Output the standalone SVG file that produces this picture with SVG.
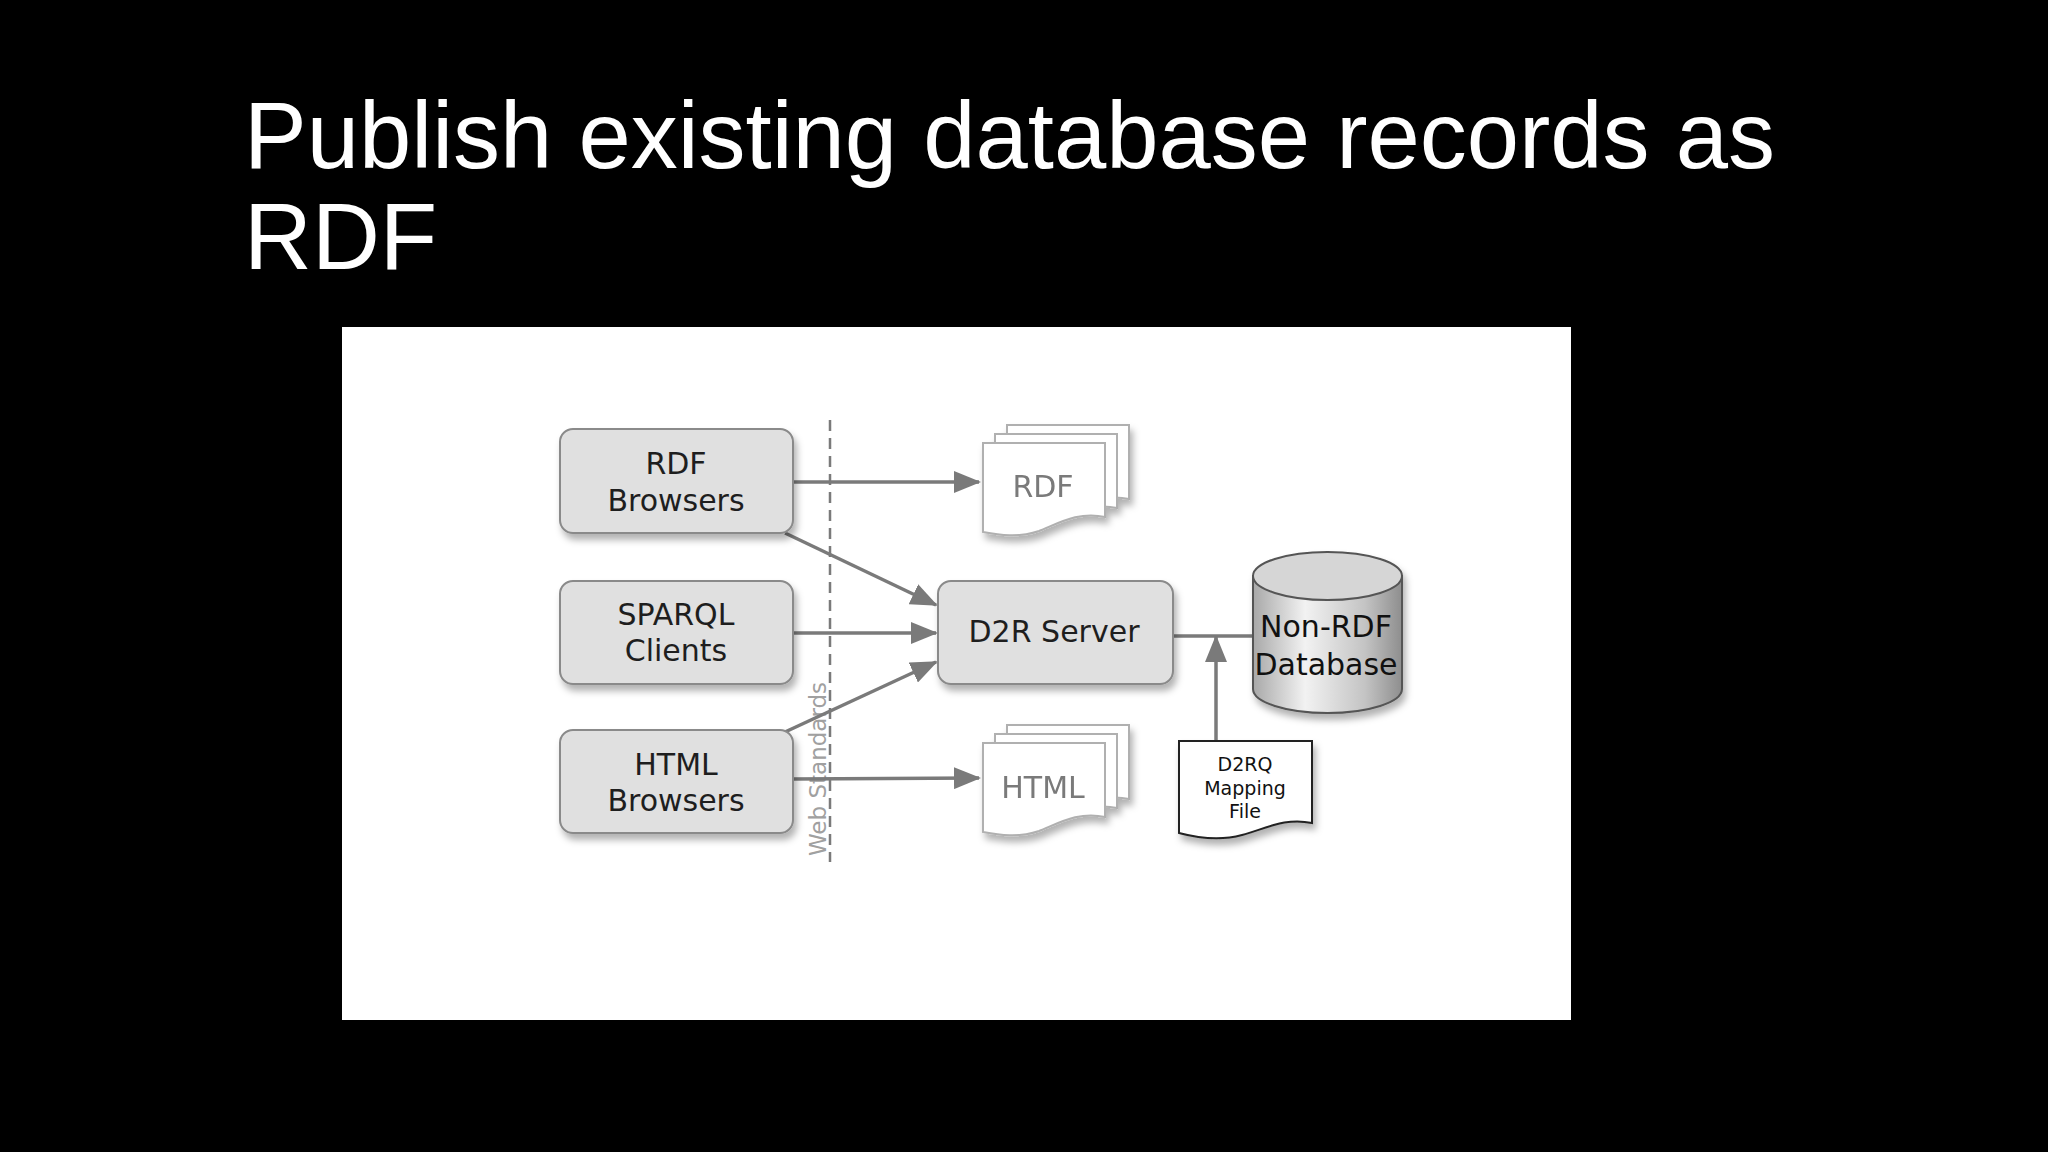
<svg xmlns="http://www.w3.org/2000/svg" width="2048" height="1152" viewBox="0 0 2048 1152">
<defs>
<style>
.title{font-family:"Liberation Sans",Arial,sans-serif;font-size:94px;fill:#fff}
.box{fill:#e0e0e0;stroke:#8a8a8a;stroke-width:2;filter:url(#sh)}
.lbl{font-family:"DejaVu Sans",Verdana,sans-serif;font-size:30px;fill:#1e1e1e;text-anchor:middle}
.doc{fill:#fff;stroke:#b0b0b0;stroke-width:2}
.doclbl{font-family:"DejaVu Sans",Verdana,sans-serif;font-size:30px;fill:#7a7a7a;text-anchor:middle}
.con{stroke:#7a7a7a;stroke-width:3.5;fill:none}
.arr{marker-end:url(#ah)}
.ws{font-family:"DejaVu Sans",Verdana,sans-serif;font-size:23px;fill:#a0a0a0;text-anchor:middle}
</style>
<filter id="sh" x="-20%" y="-20%" width="150%" height="160%">
<feDropShadow dx="3" dy="6" stdDeviation="3.5" flood-color="#000" flood-opacity="0.3"/>
</filter>
<marker id="ah" viewBox="0 0 27 22" refX="25" refY="11" markerWidth="27" markerHeight="22" markerUnits="userSpaceOnUse" orient="auto">
<path d="M0,0 L27,11 L0,22 Z" fill="#7a7a7a"/>
</marker>
<linearGradient id="cyl" x1="0" y1="0" x2="1" y2="0">
<stop offset="0" stop-color="#a8a8a8"/>
<stop offset="0.35" stop-color="#f2f2f2"/>
<stop offset="0.75" stop-color="#c4c4c4"/>
<stop offset="1" stop-color="#8e8e8e"/>
</linearGradient>
<path id="sheet" d="M0,0 H122 V74 C96,68 76,80 56,88 C36,95 16,92 0,89 Z"/>
</defs>
<rect width="2048" height="1152" fill="#000"/>
<g id="title">
<text class="title" x="244" y="168">Publish existing database records as</text>
<text class="title" x="244" y="269">RDF</text>
</g>
<rect id="panel" x="342" y="327" width="1229" height="693" fill="#fff"/>
<g id="web-standards">
<line x1="830" y1="420" x2="830" y2="862" stroke="#7a7a7a" stroke-width="2.5" stroke-dasharray="11,7"/>
<text class="ws" transform="translate(826,769) rotate(-90)">Web Standards</text>
</g>
<g id="connectors">
<line class="con arr" x1="793" y1="482" x2="979" y2="482"/>
<line class="con arr" x1="785" y1="533" x2="936" y2="605"/>
<line class="con arr" x1="793" y1="633" x2="936" y2="633"/>
<line class="con arr" x1="785" y1="732" x2="936" y2="662"/>
<line class="con arr" x1="793" y1="779" x2="979" y2="778"/>
<line class="con" x1="1173" y1="636" x2="1256" y2="636"/>
<line class="con arr" x1="1216" y1="742" x2="1216" y2="637"/>
</g>
<g id="rdf-browsers">
<rect class="box" x="560" y="429" width="233" height="104" rx="13"/>
<text class="lbl" x="676" y="474">RDF</text>
<text class="lbl" x="676" y="511">Browsers</text>
</g>
<g id="sparql-clients">
<rect class="box" x="560" y="581" width="233" height="103" rx="13"/>
<text class="lbl" x="676" y="625">SPARQL</text>
<text class="lbl" x="676" y="661">Clients</text>
</g>
<g id="html-browsers">
<rect class="box" x="560" y="730" width="233" height="103" rx="13"/>
<text class="lbl" x="676" y="775">HTML</text>
<text class="lbl" x="676" y="811">Browsers</text>
</g>
<g id="d2r-server">
<rect class="box" x="938" y="581" width="235" height="103" rx="13"/>
<text class="lbl" x="1054" y="642">D2R Server</text>
</g>
<g id="rdf-docs" filter="url(#sh)">
<use href="#sheet" class="doc" x="1007" y="425"/>
<use href="#sheet" class="doc" x="995" y="434"/>
<use href="#sheet" class="doc" x="983" y="443"/>
<text class="doclbl" x="1043" y="497">RDF</text>
</g>
<g id="html-docs" filter="url(#sh)">
<use href="#sheet" class="doc" x="1007" y="725"/>
<use href="#sheet" class="doc" x="995" y="734"/>
<use href="#sheet" class="doc" x="983" y="743"/>
<text class="doclbl" x="1043" y="798">HTML</text>
</g>
<g id="database">
<g filter="url(#sh)">
<path d="M1253,576 V689 A74.5,24 0 0 0 1402,689 V576 Z" fill="url(#cyl)" stroke="#555" stroke-width="2"/>
<ellipse cx="1327.5" cy="576" rx="74.5" ry="24" fill="#d6d6d6" stroke="#555" stroke-width="2"/>
</g>
<text class="lbl" x="1326" y="637" style="font-size:30px;fill:#111">Non-RDF</text>
<text class="lbl" x="1326" y="675" style="font-size:30px;fill:#111">Database</text>
</g>
<g id="mapping-file">
<path d="M1179,741 H1312 V823 C1285,817 1265,829 1242,835 C1220,841 1198,838 1179,833 Z" fill="#fff" stroke="#222" stroke-width="2" filter="url(#sh)"/>
<text class="lbl" x="1245" y="771" style="font-size:19px;fill:#111">D2RQ</text>
<text class="lbl" x="1245" y="795" style="font-size:19px;fill:#111">Mapping</text>
<text class="lbl" x="1245" y="818" style="font-size:19px;fill:#111">File</text>
</g>
</svg>
